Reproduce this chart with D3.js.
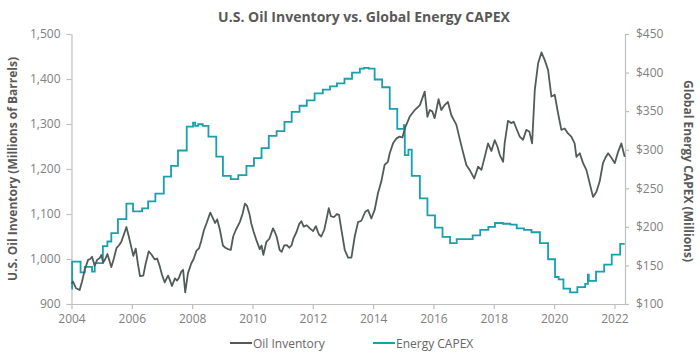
<!DOCTYPE html>
<html><head><meta charset="utf-8">
<script src="https://cdn.jsdelivr.net/npm/d3@7"></script>
<style>
html,body{margin:0;padding:0;background:#fff;}
svg{display:block;font-family:"Open Sans",sans-serif;}
</style></head>
<body><svg id="c" width="700" height="355"></svg>
<script>
const title = "U.S. Oil Inventory vs. Global Energy CAPEX";
const leftTitle = "U.S. Oil Inventory (Millions of Barrels)";
const rightTitle = "Global Energy CAPEX (Millions)";
const seriesNames = ["Oil Inventory", "Energy CAPEX"];
const yearTicks = [2004,2006,2008,2010,2012,2014,2016,2018,2020,2022];
const oilTicks = [900,1000,1100,1200,1300,1400,1500];
const capexTicks = [100,150,200,250,300,350,400,450];

// Oil inventory: [year, millions of barrels]
const oilYears = [2004.00,2004.05,2004.15,2004.27,2004.35,2004.44,2004.55,2004.62,2004.68,2004.77,2004.85,2004.93,2004.99,2005.05,2005.12,2005.19,2005.25,2005.32,2005.40,2005.49,2005.57,2005.65,2005.74,2005.82,2005.90,2005.98,2006.05,2006.13,2006.20,2006.27,2006.38,2006.46,2006.56,2006.65,2006.76,2006.84,2006.93,2007.00,2007.09,2007.20,2007.27,2007.33,2007.43,2007.50,2007.56,2007.64,2007.70,2007.77,2007.86,2007.97,2008.05,2008.14,2008.23,2008.30,2008.39,2008.48,2008.60,2008.68,2008.76,2008.83,2008.91,2009.02,2009.10,2009.19,2009.28,2009.36,2009.45,2009.58,2009.67,2009.75,2009.82,2009.90,2009.96,2010.04,2010.13,2010.24,2010.30,2010.36,2010.46,2010.56,2010.68,2010.74,2010.80,2010.90,2010.97,2011.05,2011.14,2011.22,2011.30,2011.36,2011.46,2011.55,2011.62,2011.70,2011.80,2011.90,2012.01,2012.10,2012.20,2012.28,2012.38,2012.46,2012.53,2012.60,2012.70,2012.80,2012.87,2012.95,2013.06,2013.17,2013.28,2013.39,2013.50,2013.61,2013.74,2013.83,2013.94,2014.05,2014.16,2014.27,2014.38,2014.49,2014.55,2014.66,2014.77,2014.88,2014.97,2015.05,2015.21,2015.38,2015.55,2015.71,2015.80,2015.88,2015.96,2016.04,2016.17,2016.26,2016.37,2016.48,2016.59,2016.76,2016.92,2017.09,2017.20,2017.35,2017.48,2017.59,2017.70,2017.81,2017.92,2018.03,2018.12,2018.20,2018.31,2018.36,2018.47,2018.58,2018.66,2018.75,2018.86,2018.97,2019.08,2019.18,2019.27,2019.36,2019.47,2019.58,2019.69,2019.80,2019.91,2020.02,2020.13,2020.24,2020.35,2020.46,2020.57,2020.68,2020.74,2020.85,2020.96,2021.07,2021.18,2021.29,2021.40,2021.51,2021.62,2021.70,2021.79,2021.90,2022.01,2022.12,2022.23,2022.34];
const oilValues = [945,950,935,931,950,976,998,1000,1005,985,998,1002,1009,992,1000,1011,998,982,1000,1024,1030,1038,1055,1071,1050,1027,1007,1023,990,962,963,990,1017,1010,999,1001,983,965,948,963,952,940,957,952,958,972,976,926,968,990,1000,1018,1024,1040,1064,1080,1103,1092,1080,1088,1068,1030,1025,1022,1020,1050,1065,1082,1100,1123,1118,1100,1079,1060,1042,1022,1030,1009,1038,1045,1068,1060,1050,1020,1016,1030,1031,1025,1031,1046,1060,1078,1084,1072,1075,1068,1062,1073,1055,1050,1065,1090,1113,1095,1093,1100,1098,1064,1020,1003,1003,1050,1082,1085,1105,1109,1090,1109,1146,1172,1209,1216,1235,1257,1268,1272,1270,1290,1316,1331,1342,1372,1316,1331,1328,1313,1355,1331,1342,1349,1320,1298,1253,1209,1198,1179,1205,1198,1227,1257,1240,1264,1250,1231,1216,1257,1307,1302,1305,1290,1272,1265,1287,1283,1257,1376,1435,1459,1442,1420,1361,1365,1324,1287,1290,1279,1272,1257,1227,1235,1213,1198,1168,1138,1149,1172,1213,1225,1235,1225,1213,1238,1257,1227];

// Energy CAPEX (step series): [start year of step, $ millions]
const capexYears = [2004.00,2004.02,2004.30,2004.44,2004.68,2004.77,2005.04,2005.19,2005.32,2005.54,2005.82,2006.04,2006.34,2006.54,2006.78,2007.06,2007.30,2007.53,2007.82,2008.03,2008.10,2008.20,2008.35,2008.54,2008.80,2009.02,2009.28,2009.53,2009.80,2010.05,2010.30,2010.54,2010.80,2011.06,2011.30,2011.56,2011.80,2012.06,2012.33,2012.57,2012.80,2013.05,2013.30,2013.56,2013.70,2013.85,2014.05,2014.30,2014.55,2014.80,2015.02,2015.05,2015.17,2015.28,2015.55,2015.80,2016.05,2016.30,2016.55,2016.77,2017.30,2017.55,2017.82,2018.04,2018.30,2018.55,2018.76,2019.00,2019.25,2019.53,2019.80,2020.03,2020.15,2020.31,2020.53,2020.77,2021.03,2021.12,2021.15,2021.39,2021.66,2021.91,2022.19,2022.34];
const capexValues = [120,155,141,148,142,153,175,181,192,210,230,220,224,233,243,265,279,299,330,335,331,333,331,317,291,266,262,267,279,289,302,318,324,336,349,357,364,373,378,382,386,392,400,405,406,405,391,381,353,327,332,293,300,266,237,215,199,187,179,184,189,196,200,205,204,203,198,196,193,179,158,135,132,120,115,122,126,138,130,142,151,164,178,178];

const oilColor = "#515c59", capexColor = "#17a0ad";
const axisColor = "#bfbfbf", tickText = "#808080", titleColor = "#595959";

const svg = d3.select("#c");
const M = {l:71.5, r:625, t:34, b:304};
const x = d3.scaleLinear().domain([2004, 2022.35]).range([M.l, M.r]);
const yL = d3.scaleLinear().domain([900,1500]).range([M.b, M.t]);
const yR = d3.scaleLinear().domain([100,450]).range([M.b, M.t]);

// Title
svg.append("text").attr("x", 364).attr("y", 22).attr("text-anchor","middle")
  .attr("font-size", 14).attr("font-weight", 700).attr("fill", titleColor).text(title);

function styleAxis(g){
  g.select(".domain").attr("stroke", axisColor).attr("stroke-width",1.2);
  g.selectAll(".tick line").attr("stroke", axisColor).attr("stroke-width",1.2);
  g.selectAll(".tick text").attr("fill", tickText).attr("font-size", 12)
    .attr("font-family","'Open Sans',sans-serif");
}

const gL = svg.append("g").attr("transform",`translate(${M.l},0)`)
  .call(d3.axisLeft(yL).tickValues(oilTicks).tickFormat(d3.format(",")).tickSize(5).tickSizeOuter(0).tickPadding(6));
styleAxis(gL);

const gR = svg.append("g").attr("transform",`translate(${M.r},0)`)
  .call(d3.axisRight(yR).tickValues(capexTicks).tickFormat(d=>"$"+d).tickSize(4).tickSizeOuter(0).tickPadding(7));
styleAxis(gR);

const gB = svg.append("g").attr("transform",`translate(0,${M.b})`)
  .call(d3.axisBottom(x).tickValues(yearTicks).tickFormat(d3.format("d")).tickSize(5).tickSizeOuter(0).tickPadding(5));
styleAxis(gB);

// Axis titles
svg.append("text").attr("transform",`translate(17,${(M.t+M.b)/2}) rotate(-90)`)
  .attr("text-anchor","middle").attr("font-size",12).attr("font-weight",700)
  .attr("fill",titleColor).text(leftTitle);
svg.append("text").attr("transform",`translate(683.5,${(M.t+M.b)/2 + 2}) rotate(90)`)
  .attr("text-anchor","middle").attr("font-size",12).attr("font-weight",700)
  .attr("fill",titleColor).text(rightTitle);

// Lines
const oilData = oilYears.map((t,i)=>({t, v:oilValues[i]}));
const capexData = capexYears.map((t,i)=>({t, v:capexValues[i]}));

svg.append("path").datum(capexData)
  .attr("fill","none").attr("stroke",capexColor).attr("stroke-width",1.8)
  .attr("d", d3.line().x(d=>x(d.t)).y(d=>yR(d.v)).curve(d3.curveStepAfter));

svg.append("path").datum(oilData)
  .attr("fill","none").attr("stroke",oilColor).attr("stroke-width",1.8).attr("stroke-linejoin","round")
  .attr("d", d3.line().x(d=>x(d.t)).y(d=>yL(d.v)));

// Legend
const legend = [{name:seriesNames[0], color:oilColor, x:230},{name:seriesNames[1], color:capexColor, x:373}];
const lg = svg.append("g");
legend.forEach(l=>{
  lg.append("line").attr("x1",l.x).attr("x2",l.x+22).attr("y1",343).attr("y2",343)
    .attr("stroke",l.color).attr("stroke-width",2);
  lg.append("text").attr("x",l.x+23).attr("y",347.5).attr("font-size",12)
    .attr("fill","#666").text(l.name);
});
</script></body></html>
